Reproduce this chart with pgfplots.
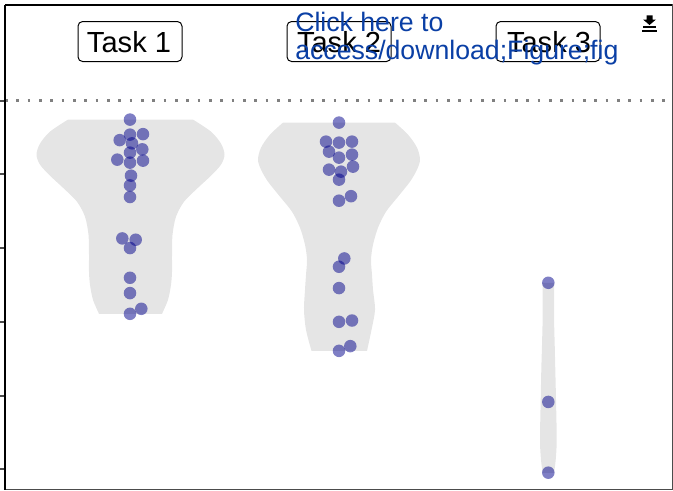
\documentclass[border=0pt]{standalone}
\usepackage{fontspec}
\setmainfont{Liberation Sans}
\usepackage{pgfplots}
\pgfplotsset{compat=1.18}
\usepgfplotslibrary{fillbetween}
\definecolor{violin}{HTML}{E5E5E5}
\definecolor{dots}{RGB}{0,0,139}
\definecolor{linkblue}{HTML}{0A3FA5}
\begin{document}
\begin{tikzpicture}
\begin{axis}[
  at={(3.75pt,0.75pt)}, anchor=south west,
  scale only axis, width=500.25pt, height=363.75pt,
  xmin=5, xmax=672, ymin=5.5, ymax=490, y dir=reverse,
  xtick=\empty,
  ytick={101,174.3,248,322,395.7,469.3}, yticklabels={},
  tick align=outside, major tick length=3.75pt,
  ytick style={color=black!70, line width=1.4pt},
  tick pos=left,
  axis line style={black!70, line width=0.75pt},
  clip=false,
]
% Task 1 violin
\addplot[name path=aL, draw=none, smooth, forget plot] coordinates {
 (68,120) (50,132) (40,144) (36.5,155) (40,165) (50,176) (64,189) (77,202) (85,217) (88.5,235) (89,255) (89,272) (90,285) (93,300) (99,314)};
\addplot[name path=aR, draw=none, smooth, forget plot] coordinates {
 (193,120) (211,132) (221,144) (224.5,155) (221,165) (211,176) (197,189) (184,202) (176,217) (172.5,235) (172,255) (172,272) (171,285) (168,300) (162,314)};
\addplot[violin, forget plot] fill between[of=aL and aR, reverse=true];
% Task 2 violin
\addplot[name path=bL, draw=none, smooth, forget plot] coordinates {
 (283,123) (270,135) (261,148) (258,160) (261,170) (268,182) (280,197) (292,212) (300,228) (305,245) (307,260) (306,275) (305,290) (304,310) (306,330) (311.5,351)};
\addplot[name path=bR, draw=none, smooth, forget plot] coordinates {
 (395,123) (408,135) (417,148) (420,160) (417,170) (410,182) (398,197) (386,212) (378,228) (373,245) (371,260) (372,275) (373,290) (375,310) (371.5,330) (367,351)};
\addplot[violin, forget plot] fill between[of=bL and bR, reverse=true];
% Task 3 violin
\addplot[name path=cL, draw=none, smooth, forget plot] coordinates {
 (542.7,283) (542.6,320) (542,345) (541.3,370) (540.7,400) (540,440) (541,460) (542.7,473)};
\addplot[name path=cR, draw=none, smooth, forget plot] coordinates {
 (554,283) (554.1,320) (554.7,345) (555.3,370) (556,400) (556.7,440) (555.7,460) (554,473)};
\addplot[violin, forget plot] fill between[of=cL and cR, reverse=true];
% dotted reference line
\addplot[color=black!50, line width=1.9pt, dash pattern=on 1.9pt off 6.6pt, forget plot] coordinates {(5,101) (672,101)};
% points
\addplot[only marks, mark=*, mark size=4.7pt, mark options={draw opacity=0, fill=dots, fill opacity=0.5}] coordinates {
 (130,120) (130,135) (143,134.5) (119.7,140.5) (132,143.7) (130,153) (142.3,149.7) (117.3,160) (130,163) (143,161) (131,176) (130,185.7) (130,197.3) (122.3,238.7) (135.7,240) (130,248.3) (130,278) (130,293.3) (130,314) (141.3,309)};
\addplot[only marks, mark=*, mark size=4.7pt, mark options={draw opacity=0, fill=dots, fill opacity=0.5}] coordinates {
 (339,123) (326,142) (339,143) (352,142) (329,152) (339,158) (352,155) (329,170) (341,172) (353,167) (339,180) (339,201) (351,196.5) (344.3,258.7) (339,267) (339,288.3) (339,322) (352,320.7) (339,351) (350.3,346.3)};
\addplot[only marks, mark=*, mark size=4.7pt, mark options={draw opacity=0, fill=dots, fill opacity=0.5}] coordinates {
 (548.3,283) (548.3,402) (548.3,472.7)};
% frame emphasis
\draw[black, line width=1.5pt] (axis cs:5,490) -- (axis cs:5,5.5);
\draw[black, line width=1.1pt] (axis cs:5,5.5) -- (axis cs:672,5.5);
% facet label boxes
\draw[black, line width=0.75pt, rounded corners=3.5pt, fill=white] (axis cs:78,22) rectangle (axis cs:182,62);
\draw[black, line width=0.75pt, rounded corners=3.5pt, fill=white] (axis cs:287,22) rectangle (axis cs:391,62);
\draw[black, line width=0.75pt, rounded corners=3.5pt, fill=white] (axis cs:496,22) rectangle (axis cs:600,62);
\node[anchor=base, inner sep=0pt, font=\fontsize{21.8}{25}\selectfont] at (axis cs:129,52.5) {Task 1};
\node[anchor=base, inner sep=0pt, font=\fontsize{21.8}{25}\selectfont] at (axis cs:339,52.5) {Task 2};
\node[anchor=base, inner sep=0pt, font=\fontsize{21.8}{25}\selectfont] at (axis cs:549,52.5) {Task 3};
% overlay link
\node[anchor=base west, inner sep=0pt, text=linkblue, font=\fontsize{20}{24}\selectfont] at (axis cs:295,32) {Click here to};
\node[anchor=base west, inner sep=0pt, text=linkblue, font=\fontsize{20}{24}\selectfont] at (axis cs:295,59.5) {access/download;Figure;fig};
% download icon
\fill[black] (axis cs:646.5,16) -- (axis cs:652.5,16) -- (axis cs:652.5,20) -- (axis cs:656,20) -- (axis cs:649.5,25.5) -- (axis cs:643,20) -- (axis cs:646.5,20) -- cycle;
\fill[black] (axis cs:643,26.5) rectangle (axis cs:656,28);
\fill[black] (axis cs:641.5,30.5) rectangle (axis cs:657,32);
\end{axis}
\pgfresetboundingbox
\path[use as bounding box] (0,0) rectangle (504.75pt,368.25pt);
\end{tikzpicture}
\end{document}
